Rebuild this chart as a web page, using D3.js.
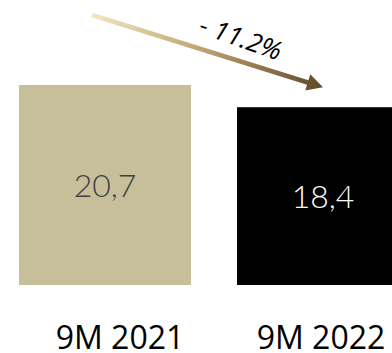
<!DOCTYPE html>
<html>
<head>
<meta charset="utf-8">
<script src="https://cdn.jsdelivr.net/npm/d3@7"></script>
<style>
  html, body { margin: 0; padding: 0; background: #fff; overflow: hidden; }
  svg { display: block; }
</style>
</head>
<body>
<svg id="chart" width="392" height="353"></svg>
<script>
// Period labels and revenue values (comma decimal as printed)
const categories = ["9M 2021", "9M 2022"];
const values = [20.7, 18.4];
const valueLabels = ["20,7", "18,4"];
const changeLabel = "- 11.2%";

const barColors = ["#c6bf9a", "#000000"];
const valueColors = ["#404040", "#ffffff"];

const svg = d3.select("#chart");

const x = d3.scaleBand()
  .domain(categories)
  .range([19, 409])
  .paddingInner(0.211)
  .paddingOuter(0);

const y = d3.scaleLinear()
  .domain([0, d3.max(values)])
  .range([285, 85]);

// category labels sit on their own point scale below the bars
const xLabel = d3.scalePoint()
  .domain(categories)
  .range([120, 321]);

// bars
svg.selectAll("rect.bar")
  .data(values)
  .join("rect")
  .attr("class", "bar")
  .attr("x", (d, i) => x(categories[i]))
  .attr("y", d => y(d))
  .attr("width", x.bandwidth())
  .attr("height", d => y(0) - y(d))
  .attr("fill", (d, i) => barColors[i]);

// value labels centred in each bar
svg.selectAll("text.value")
  .data(values)
  .join("text")
  .attr("class", "value")
  .attr("x", (d, i) => x(categories[i]) + x.bandwidth() / 2)
  .attr("y", d => (y(d) + y(0)) / 2)
  .attr("dy", "0.36em")
  .attr("text-anchor", "middle")
  .attr("font-family", "Lato, 'Open Sans', sans-serif")
  .attr("font-weight", 300)
  .attr("font-size", 32)
  .attr("fill", (d, i) => valueColors[i])
  .text((d, i) => valueLabels[i]);

// category labels
svg.selectAll("text.cat")
  .data(categories)
  .join("text")
  .attr("class", "cat")
  .attr("x", d => xLabel(d))
  .attr("y", 349)
  .attr("text-anchor", "middle")
  .attr("font-family", "'Open Sans', sans-serif")
  .attr("font-size", 32)
  .attr("fill", "#000")
  .text(d => d);

// trend arrow from above the first bar down to the second
const x0 = x(categories[0]) + x.bandwidth() * 0.425;
const y0 = 15;
const x1 = x(categories[1]) + x.bandwidth() / 2;
const y1 = y(values[1]) - 20;
const angle = Math.atan2(y1 - y0, x1 - x0);
const len = Math.hypot(x1 - x0, y1 - y0);

const defs = svg.append("defs");
const grad = defs.append("linearGradient")
  .attr("id", "trendGrad")
  .attr("gradientUnits", "userSpaceOnUse")
  .attr("x1", 0).attr("y1", 0).attr("x2", len).attr("y2", 0);
grad.append("stop").attr("offset", "0%").attr("stop-color", "#f1e7c0");
grad.append("stop").attr("offset", "45%").attr("stop-color", "#c2a874");
grad.append("stop").attr("offset", "100%").attr("stop-color", "#5f4a28");

const arrow = svg.append("g")
  .attr("transform", `translate(${x0},${y0}) rotate(${angle * 180 / Math.PI})`);

const headLen = 16, headHalf = 8.5, shaft = 2.4;
arrow.append("path")
  .attr("d", d3.line()([
    [0, -shaft], [len - headLen, -shaft], [len - headLen, -headHalf],
    [len, 0],
    [len - headLen, headHalf], [len - headLen, shaft], [0, shaft]
  ]) + "Z")
  .attr("fill", "url(#trendGrad)");

// percentage change label riding above the arrow
svg.append("text")
  .attr("transform", `translate(${x0 + (x1 - x0) * 0.63},${y0 + (y1 - y0) * 0.63 - 14}) rotate(${angle * 180 / Math.PI + 2})`)
  .attr("text-anchor", "middle")
  .attr("font-family", "'Open Sans', sans-serif")
  .attr("font-style", "italic")
  .attr("font-size", 26)
  .attr("fill", "#000")
  .text(changeLabel);
</script>
</body>
</html>
